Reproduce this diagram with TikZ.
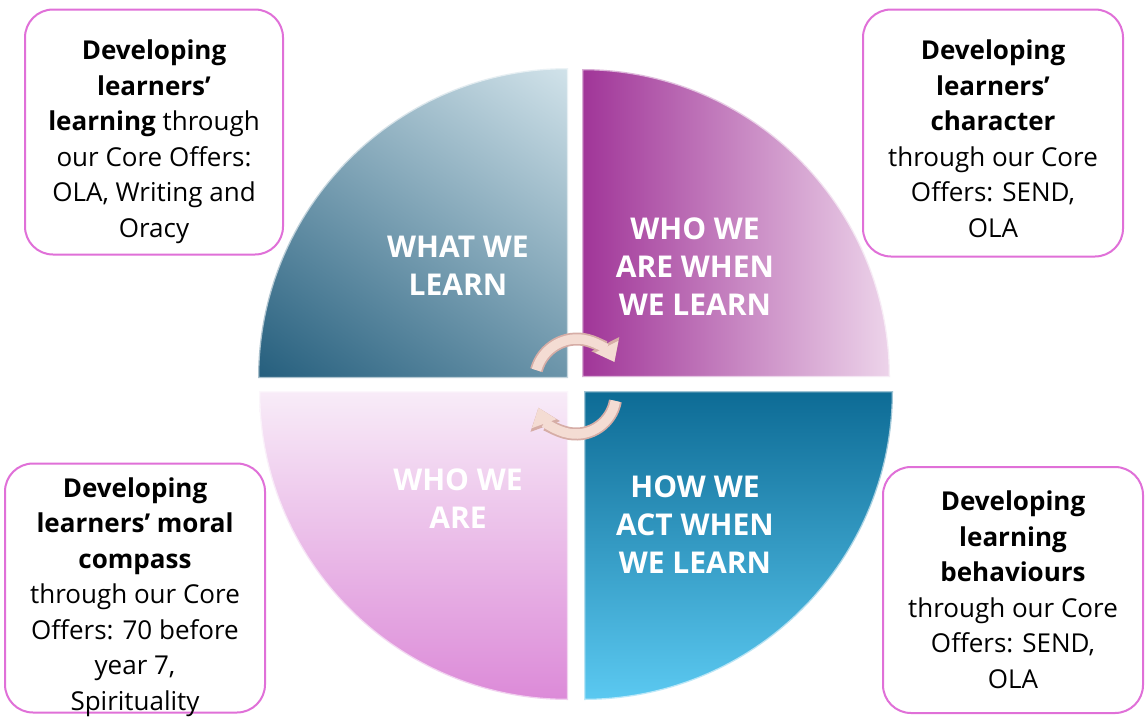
\documentclass[tikz,border=0pt]{standalone}
\usepackage{fontspec}
\setmainfont{Open Sans}
\usetikzlibrary{arrows.meta}
\definecolor{boxpink}{HTML}{E070D8}
\definecolor{tlA}{HTML}{D3E4EB}
\definecolor{tlM}{HTML}{5C8CA4}
\definecolor{tlB}{HTML}{235D7C}
\definecolor{trA}{HTML}{A03598}
\definecolor{trB}{HTML}{EDD4EA}
\definecolor{blA}{HTML}{F8ECF8}
\definecolor{blB}{HTML}{DC8AD8}
\definecolor{brA}{HTML}{0D6B95}
\definecolor{brB}{HTML}{5BC9F1}
\definecolor{peach}{HTML}{F4DCD3}
\definecolor{peachedge}{HTML}{D6ADA6}
\tikzset{
  infobox/.style={draw=boxpink, line width=2, rounded corners=28, fill=white},
  boxtext/.style={align=center, text=black, inner sep=0pt,
    font=\fontsize{26}{35.5}\selectfont},
  qlabel/.style={align=center, text=white, inner sep=0pt,
    font=\fontsize{30}{38}\selectfont\bfseries},
  rim/.style={draw=white, draw opacity=0.6, line width=2.5},
  cycedge/.style={line width=13, draw=peachedge, line cap=butt,
    -{Triangle[length=20,width=30,fill=peachedge]}},
  cycarrow/.style={line width=9.5, draw=peach, line cap=butt,
    -{Triangle[length=17,width=25,fill=peach]}},
}
\begin{document}
\begin{tikzpicture}[x=1pt,y=-1pt]
\useasboundingbox (0,0) rectangle (1145,720);
\fill[white] (0,0) rectangle (1145,720);

% quadrants
\begin{scope}
  \clip (568,378) -- (258,378) arc[start angle=180, end angle=270, radius=310] -- cycle;
  \shade[top color=tlA, middle color=tlM, bottom color=tlB, shading angle=-35] (193,3) rectangle (633,443);
\end{scope}
\shade[left color=trA, right color=trB]
  (582,377) -- (582,69) arc[start angle=270, end angle=360, radius=308] -- cycle;
\shade[top color=blA, bottom color=blB]
  (568,391) -- (568,700) arc[start angle=90, end angle=180, radius=309] -- cycle;
\shade[top color=brA, bottom color=brB]
  (584,391) -- (893,391) arc[start angle=0, end angle=90, radius=309] -- cycle;

% light rims
\path[rim] (568,378) -- (258,378) arc[start angle=180, end angle=270, radius=310] -- cycle;
\path[rim] (582,377) -- (582,69) arc[start angle=270, end angle=360, radius=308] -- cycle;
\path[rim] (568,391) -- (568,700) arc[start angle=90, end angle=180, radius=309] -- cycle;
\path[rim] (584,391) -- (893,391) arc[start angle=0, end angle=90, radius=309] -- cycle;

% quadrant labels
\node[qlabel] (what) at (458,266) {WHAT WE\\LEARN};
\node[qlabel] (whowhen) at (695,267) {WHO WE\\ARE WHEN\\WE LEARN};
\node[qlabel] (whoare) at (458,499) {WHO WE\\ARE};
\node[qlabel] (how) at (695,525) {HOW WE\\ACT WHEN\\WE LEARN};

% cycle arrows
\coordinate (c1) at (577,381);
\coordinate (c2) at (576,394);
\draw[cycedge] ([shift={(195:42)}]c1) arc[start angle=195, end angle=333, radius=42];
\draw[cycarrow] ([shift={(195:42)}]c1) arc[start angle=195, end angle=333, radius=42];
\draw[cycedge] ([shift={(10:40)}]c2) arc[start angle=10, end angle=160, radius=40];
\draw[cycarrow] ([shift={(10:40)}]c2) arc[start angle=10, end angle=160, radius=40];

% info boxes
\node[infobox, minimum width=258, minimum height=245] (tl) at (154,132) {};
\node[boxtext] (tltext) at (154,141.5)
  {\textbf{Developing}\\\textbf{learners’}\\\textbf{learning} through\\our Core Offers:\\OLA, Writing and\\Oracy};
\node[infobox, minimum width=260, minimum height=247] (tr) at (993,133) {};
\node[boxtext] (trtext) at (993,138.5)
  {\textbf{Developing}\\\textbf{learners’}\\\textbf{character}\\through our Core\\Offers: SEND,\\OLA};
\node[infobox, minimum width=260, minimum height=249] (bl) at (135,588) {};
\node[boxtext] (bltext) at (135,597)
  {\textbf{Developing}\\\textbf{learners’ moral}\\\textbf{compass}\\through our Core\\Offers: 70 before\\year 7,\\Spirituality};
\node[infobox, minimum width=260, minimum height=246] (br) at (1013,590) {};
\node[boxtext] (brtext) at (1013,589.5)
  {\textbf{Developing}\\\textbf{learning}\\\textbf{behaviours}\\through our Core\\Offers: SEND,\\OLA};
\end{tikzpicture}
\end{document}
